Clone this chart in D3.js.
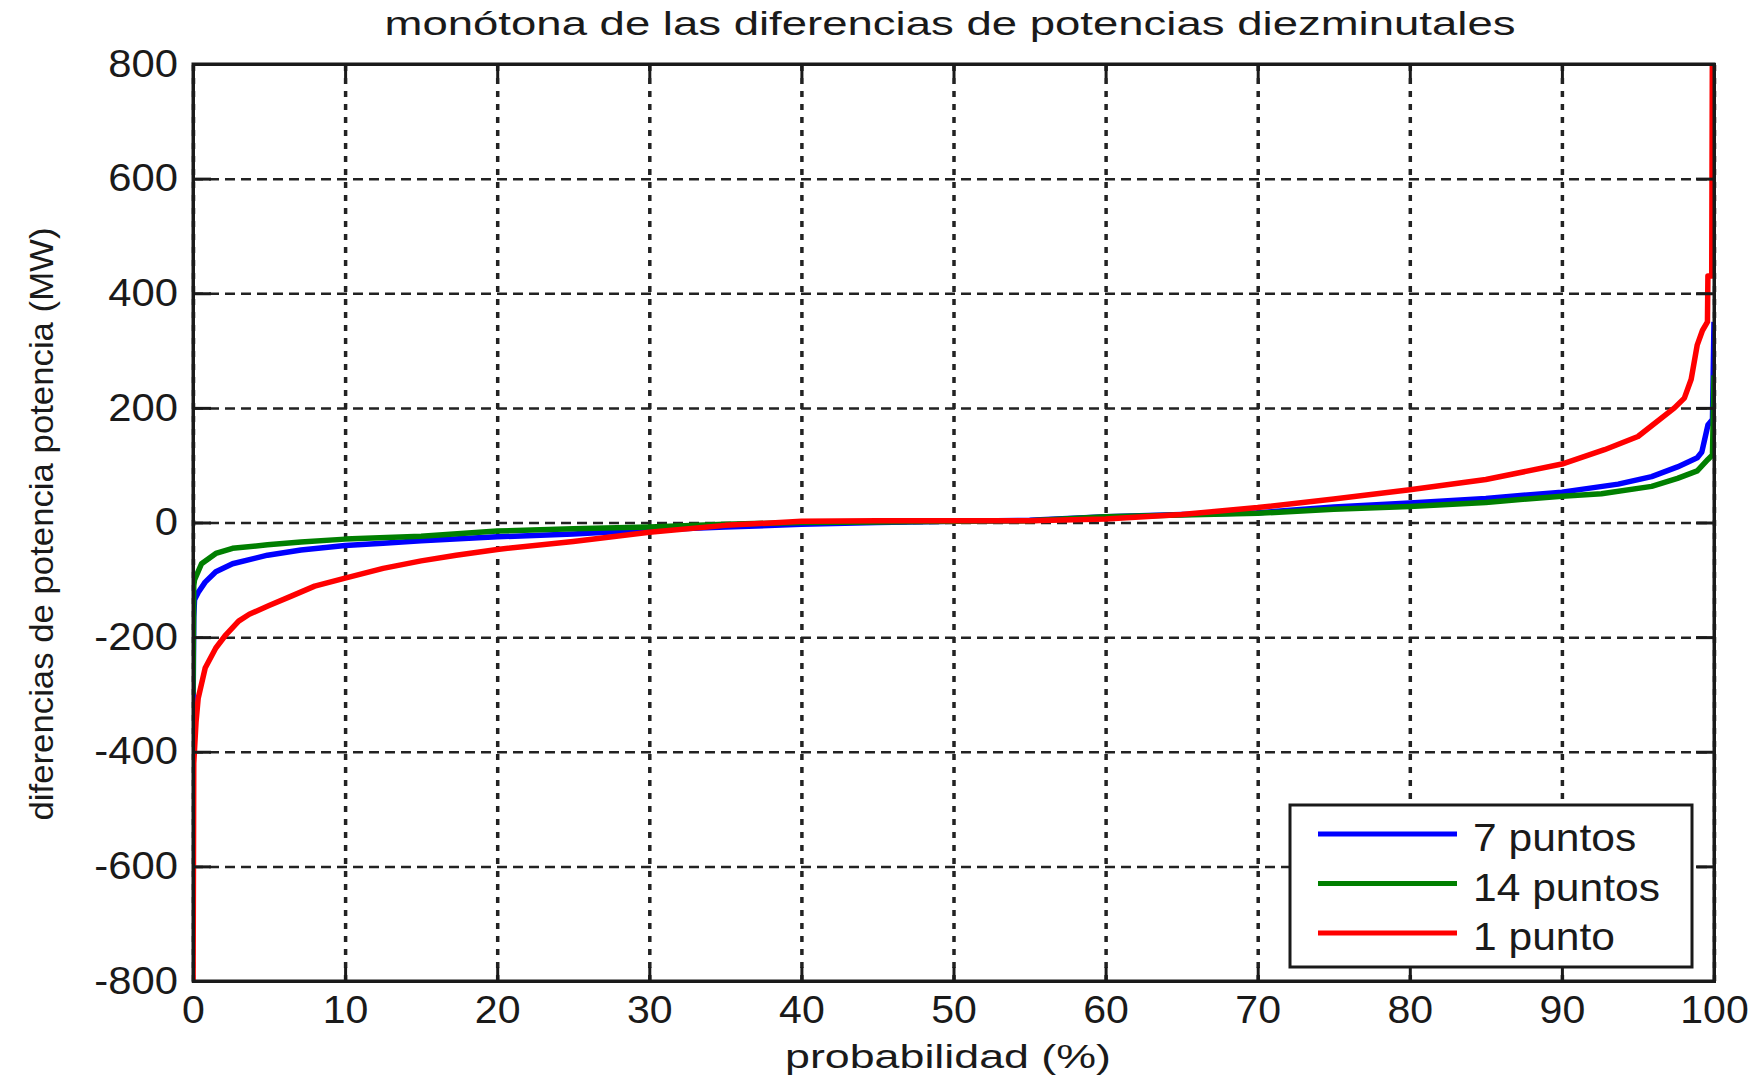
<!DOCTYPE html>
<html>
<head>
<meta charset="utf-8">
<script src="https://cdn.jsdelivr.net/npm/d3@7"></script>
<style>
  body { margin: 0; background: #fff; }
  svg text { font-family: "Liberation Sans", Arial, sans-serif; fill: #1a1a1a; }
</style>
</head>
<body>
<div id="chart"></div>
<script>
// monotone curves, probability (%) vs power difference (MW)
const probBlue = [0, 0.05, 0.1, 0.34, 0.8, 1.5, 2.6, 4.9, 7.1, 10, 12.5, 15, 20, 25, 30, 35, 40, 45, 50, 55, 60, 65, 70, 75, 80, 85, 90, 93.7, 95.9, 97.6, 98.9, 99.2, 99.6, 99.9, 100];
const valBlue  = [-345, -165, -135, -122, -104, -86, -72, -57, -48, -40, -36, -32, -25, -20, -13, -8, -3, 0, 2, 4, 10, 14, 17, 27, 34, 42, 53, 67, 80, 97, 113, 123, 170, 180, 350];

const probGreen = [0, 0.05, 0.1, 0.56, 1.5, 2.6, 4.9, 7.1, 10, 15, 20, 25, 30, 35, 40, 45, 50, 55, 60, 65, 70, 75, 80, 85, 90, 92.6, 95.9, 97.6, 98.9, 99.6, 99.9, 100];
const valGreen  = [-300, -110, -100, -72, -54, -45, -39, -34, -29, -24, -15, -11, -8, -3, 0, 1, 2, 3, 10, 13, 16, 23, 28, 35, 46, 50, 63, 77, 90, 110, 118, 257];

const probRed = [0, 0.05, 0.2, 0.34, 0.8, 1.5, 2.1, 3, 3.7, 5, 6.5, 8, 10, 12.5, 15, 17.3, 20, 25, 30, 35, 40, 45, 50, 55, 60, 65, 70, 75, 80, 85, 90, 92.8, 95, 97.4, 98.05, 98.5, 98.9, 99.24, 99.57, 99.6, 99.85, 99.9];
const valRed  = [-850, -420, -348, -307, -254, -219, -198, -172, -160, -145, -128, -111, -97, -80, -67, -57, -47, -33, -17, -5, 2, 3, 3, 3, 6, 14, 26, 41, 57, 75, 102, 127, 150, 200, 217, 250, 310, 335, 350, 430, 430, 900];

const seriesNames = ["7 puntos", "14 puntos", "1 punto"];
const seriesColors = ["#0000ff", "#007f00", "#ff0000"];
const xTicks = [0, 10, 20, 30, 40, 50, 60, 70, 80, 90, 100];
const yTicks = [-800, -600, -400, -200, 0, 200, 400, 600, 800];

const series = [
  probBlue.map((p, i) => ({p: p, v: valBlue[i]})),
  probGreen.map((p, i) => ({p: p, v: valGreen[i]})),
  probRed.map((p, i) => ({p: p, v: valRed[i]}))
];

const W = 1763, H = 1078;
const margin = {top: 64, right: 49, bottom: 97, left: 193},
    width = W - margin.left - margin.right,
    height = H - margin.top - margin.bottom;

const root = d3.select("#chart").append("svg")
    .attr("width", W)
    .attr("height", H);

const svg = root.append("g")
    .attr("transform", "translate(" + margin.left + "," + margin.top + ")");

const x = d3.scaleLinear().domain([0, 100]).range([0, width]);
const y = d3.scaleLinear().domain([-800, 800]).range([height, 0]);

// stretch text horizontally like the original bitmap
function stretch(sel, k) {
  sel.each(function() {
    const l = this.getComputedTextLength();
    d3.select(this).attr("textLength", l * k).attr("lengthAdjust", "spacingAndGlyphs");
  });
}

// grid
svg.append("g")
    .attr("transform", "translate(0," + height + ")")
    .call(d3.axisBottom(x).tickValues(xTicks).tickSize(-height).tickFormat(""))
    .call(g => g.select(".domain").remove())
    .call(g => g.selectAll("line").attr("stroke", "#222").attr("stroke-width", 3.5).attr("stroke-dasharray", "6,7"));

svg.append("g")
    .call(d3.axisLeft(y).tickValues(yTicks).tickSize(-width).tickFormat(""))
    .call(g => g.select(".domain").remove())
    .call(g => g.selectAll("line").attr("stroke", "#222").attr("stroke-width", 2.5).attr("stroke-dasharray", "10,6"));

// data
svg.append("clipPath").attr("id", "clip")
  .append("rect").attr("width", width).attr("height", height);

const line = d3.line().x(d => x(d.p)).y(d => y(d.v));

svg.append("g").attr("clip-path", "url(#clip)")
  .selectAll("path")
  .data(series)
  .join("path")
    .attr("d", line)
    .attr("fill", "none")
    .attr("stroke", (d, i) => seriesColors[i])
    .attr("stroke-width", 5.5)
    .attr("stroke-linejoin", "round");

// axes with inward ticks
const fs = 38;
const xAxis = svg.append("g")
    .attr("transform", "translate(0," + height + ")")
    .call(d3.axisBottom(x).tickValues(xTicks).tickSize(-14).tickPadding(15).tickFormat(d => String(d)));
const yAxis = svg.append("g")
    .call(d3.axisLeft(y).tickValues(yTicks).tickSize(-18).tickPadding(15).tickFormat(d => String(d)));
svg.append("g")
    .call(d3.axisTop(x).tickValues(xTicks).tickSize(-14).tickFormat(""));
svg.append("g")
    .attr("transform", "translate(" + width + ",0)")
    .call(d3.axisRight(y).tickValues(yTicks).tickSize(-18).tickFormat(""));

svg.selectAll(".domain").attr("stroke", "#1a1a1a").attr("stroke-width", 3);
svg.selectAll(".tick line").filter(function() { return !this.getAttribute("stroke-dasharray"); })
    .attr("stroke", "#1a1a1a").attr("stroke-width", 3);
svg.selectAll(".tick text").attr("font-size", fs).attr("font-family", "Liberation Sans, Arial, sans-serif").attr("fill", "#1a1a1a");
stretch(xAxis.selectAll(".tick text"), 1.08);
stretch(yAxis.selectAll(".tick text"), 1.1);

// box
svg.append("rect")
    .attr("width", width).attr("height", height)
    .attr("fill", "none").attr("stroke", "#1a1a1a").attr("stroke-width", 3);

// title and labels
root.append("text")
    .attr("x", 950).attr("y", 35)
    .attr("text-anchor", "middle")
    .attr("font-size", 34)
    .attr("textLength", 1131).attr("lengthAdjust", "spacingAndGlyphs")
    .text("monótona de las diferencias de potencias diezminutales");

root.append("text")
    .attr("x", 948).attr("y", 1068)
    .attr("text-anchor", "middle")
    .attr("font-size", 34)
    .attr("textLength", 326).attr("lengthAdjust", "spacingAndGlyphs")
    .text("probabilidad (%)");

root.append("text")
    .attr("transform", "translate(53,524) rotate(-90)")
    .attr("text-anchor", "middle")
    .attr("font-size", 33)
    .attr("textLength", 593).attr("lengthAdjust", "spacingAndGlyphs")
    .text("diferencias de potencia potencia (MW)");

// legend
const legend = root.append("g").attr("transform", "translate(1290,805)");
legend.append("rect")
    .attr("width", 402).attr("height", 162)
    .attr("fill", "#fff").attr("stroke", "#1a1a1a").attr("stroke-width", 3);
const item = legend.selectAll(".item")
  .data(seriesNames)
  .join("g")
    .attr("class", "item")
    .attr("transform", (d, i) => "translate(0," + (29 + i * 49.5) + ")");
item.append("line")
    .attr("x1", 28).attr("x2", 167)
    .attr("stroke", (d, i) => seriesColors[i])
    .attr("stroke-width", 5);
item.append("text")
    .attr("x", 183).attr("y", 17)
    .attr("font-size", fs)
    .text(d => d);
stretch(item.selectAll("text"), 1.12);
</script>
</body>
</html>
